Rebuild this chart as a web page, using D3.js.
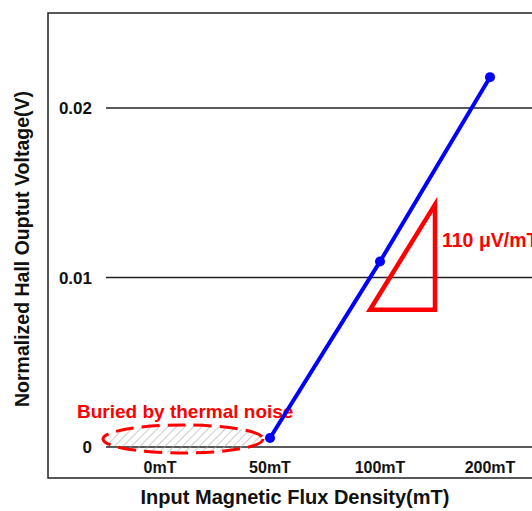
<!DOCTYPE html>
<html>
<head>
<meta charset="utf-8">
<script src="https://cdn.jsdelivr.net/npm/d3@7"></script>
<style>
  body { margin: 0; background: #fff; }
  svg { display: block; font-family: "Liberation Sans", Arial, sans-serif; }
</style>
</head>
<body>
<div id="chart"></div>
<script>
const categories = ["0mT", "50mT", "100mT", "200mT"];
// measured points (0mT is buried in thermal noise, no point)
const pointCats = ["50mT", "100mT", "200mT"];
const voltages = [0.00053, 0.01094, 0.02182];
const yTicks = [0, 0.01, 0.02];
const yTickLabels = ["0", "0.01", "0.02"];

const width = 532, height = 511;
const frame = { left: 48, top: 13, bottom: 478 };

const svg = d3.select("#chart").append("svg")
  .attr("width", width).attr("height", height);

const x = d3.scalePoint().domain(categories).range([160, 490]);
const y = d3.scaleLinear().domain([0, 0.02]).range([447, 108]);

// hatch pattern for the noise ellipse
const defs = svg.append("defs");
const pat = defs.append("pattern")
  .attr("id", "hatch").attr("patternUnits", "userSpaceOnUse")
  .attr("width", 6).attr("height", 6)
  .attr("patternTransform", "rotate(45)");
pat.append("line").attr("x1", 0).attr("y1", 0).attr("x2", 0).attr("y2", 6)
  .attr("stroke", "#a8a8a8").attr("stroke-width", 1.2);

// frame
svg.append("path")
  .attr("d", `M${width},${frame.top}H${frame.left}V${frame.bottom}H${width}`)
  .attr("fill", "none").attr("stroke", "#222").attr("stroke-width", 1.5);

// grid lines
svg.append("g").selectAll("line").data(yTicks).join("line")
  .attr("x1", 106).attr("x2", width)
  .attr("y1", d => y(d)).attr("y2", d => y(d))
  .attr("stroke", "#222").attr("stroke-width", 1.5);

// y tick labels
svg.append("g").selectAll("text").data(yTicks).join("text")
  .attr("x", 92).attr("y", d => y(d) + 6)
  .attr("text-anchor", "end")
  .style("font-size", "17px").style("font-weight", "bold").attr("fill", "#111")
  .text((d, i) => yTickLabels[i]);

// x tick labels
svg.append("g").selectAll("text").data(categories).join("text")
  .attr("x", d => x(d)).attr("y", 473)
  .attr("text-anchor", "middle")
  .style("font-size", "16px").style("font-weight", "bold").attr("fill", "#111")
  .text(d => d);

// noise ellipse
svg.append("ellipse")
  .attr("cx", x("0mT") + 23).attr("cy", y(0) - 8)
  .attr("rx", 80).attr("ry", 14)
  .attr("fill", "url(#hatch)")
  .attr("stroke", "#ff0000").attr("stroke-width", 3)
  .attr("stroke-dasharray", "18,8");

svg.append("text")
  .attr("x", 77).attr("y", 418)
  .style("font-size", "19px").style("font-weight", "bold").attr("fill", "#ff0000")
  .text("Buried by thermal noise");

// data line
const pts = pointCats.map((c, i) => ({ c, v: voltages[i] }));
svg.append("path").datum(pts)
  .attr("fill", "none").attr("stroke", "#0000ff").attr("stroke-width", 4)
  .attr("d", d3.line().x(d => x(d.c)).y(d => y(d.v)));
svg.append("g").selectAll("circle").data(pts).join("circle")
  .attr("cx", d => x(d.c)).attr("cy", d => y(d.v)).attr("r", 5)
  .attr("fill", "#0000ff");

// slope triangle
const tx0 = x("100mT") - 10, tx1 = x("100mT") + 55;
const ty0 = y(0.0081), ty1 = y(0.0143);
svg.append("path")
  .attr("d", `M${tx1},${ty1}V${ty0}H${tx0}Z`)
  .attr("fill", "none").attr("stroke", "#ff0000").attr("stroke-width", 4.5);
svg.append("text")
  .attr("x", tx1 + 7).attr("y", 247)
  .style("font-size", "19.5px").style("font-weight", "bold").attr("fill", "#ff0000")
  .text("110 μV/mT");

// axis titles
svg.append("text")
  .attr("x", 295).attr("y", 504).attr("text-anchor", "middle")
  .style("font-size", "20px").style("font-weight", "bold").attr("fill", "#111")
  .text("Input Magnetic Flux Density(mT)");
svg.append("text")
  .attr("transform", "translate(29,249) rotate(-90)").attr("text-anchor", "middle")
  .style("font-size", "19.5px").style("font-weight", "bold").attr("fill", "#111")
  .text("Normalized Hall Ouptut Voltage(V)");
</script>
</body>
</html>
